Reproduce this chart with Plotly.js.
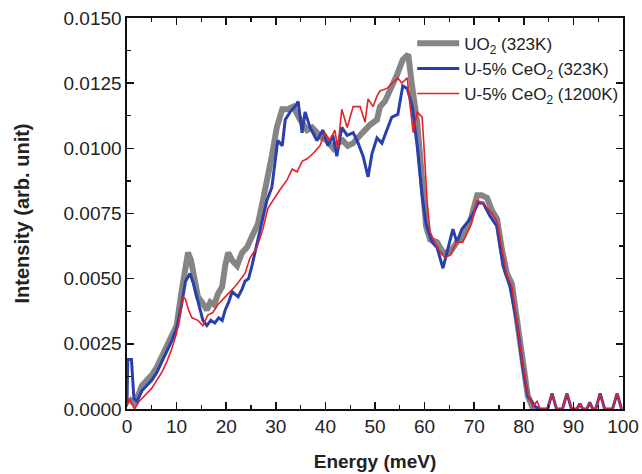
<!DOCTYPE html>
<html>
<head>
<meta charset="utf-8">
<script src="https://cdn.plot.ly/plotly-3.0.1.min.js"></script>
<style>html,body{margin:0;padding:0;background:#fff;}#chart{width:642px;height:474px;}</style>
</head>
<body>
<div id="chart"></div>
<script>
// UO2 (323K)
const uo2E = [0.3,1.5,2.2,3,4,5,6,7,8,9,10,11,11.8,12.3,12.9,13.6,14.3,15.1,16.1,16.8,17.6,18.3,19.2,19.8,20.4,21.2,22.2,23.2,24.2,25.4,26.4,27.4,28.3,29.2,30.2,31.3,32.4,33.5,34.9,36.3,37.3,38.3,39.3,40.3,41.6,42.5,43.5,44.5,45.6,47,48.4,49,50.4,51,52,53,54.4,55.6,56.7,57.4,58.5,59.1,59.7,60.3,61.1,62.5,63.7,65.1,66.5,67.7,69.2,70.6,71.5,72.6,73.6,74.6,75.6,76.6,77.6,78.6,79.8,80.8,81.9,83];
const uo2I = [0.0004,0.0002,0.0005,0.0009,0.0011,0.0013,0.0016,0.0020,0.0024,0.0028,0.0032,0.0045,0.0057,0.0060,0.0057,0.0049,0.0043,0.0041,0.0038,0.0041,0.0040,0.0044,0.0047,0.0055,0.0060,0.0057,0.0055,0.0060,0.0062,0.0067,0.0071,0.0080,0.0088,0.0097,0.0108,0.0115,0.0115,0.0116,0.0111,0.0107,0.0108,0.0106,0.0104,0.0103,0.0100,0.0102,0.0103,0.0101,0.0102,0.0105,0.0108,0.0109,0.0111,0.0116,0.0118,0.0122,0.0128,0.0134,0.0136,0.0125,0.0110,0.0097,0.0082,0.0070,0.0065,0.0064,0.0060,0.0060,0.0064,0.0066,0.0072,0.0082,0.0082,0.0081,0.0076,0.0073,0.0061,0.0052,0.0048,0.0035,0.0017,0.0005,0.0000,0.0000];

// U-5% CeO2 (323K)
const ce323E = [0,0.15,0.9,1.4,2,3,4,5,6,7,8,9,10,11,11.8,12.7,13.4,14.1,14.8,15.3,16.1,16.9,17.7,18.5,19.2,19.8,20.5,21.2,22.4,23.2,23.8,24.5,25.2,26.2,26.8,28.2,29.2,29.8,30.4,31.3,31.9,32.9,33.9,34.5,35.3,35.9,36.9,38.3,39.5,40.5,41.5,42.3,43.3,44.4,45.6,46.6,47.6,48.6,49.4,50.4,51.4,52.4,53.4,54.6,55.6,56.5,57.5,58.5,59.5,60.3,61.5,62.5,63.7,64.5,65.7,66.5,67.5,68.8,69.8,70.8,71.8,73.2,74.6,75.8,77.2,78.6,79.8,80.8,82.3,83,84.8,85.7,86.6,87.8,88.7,89.6,90.7,91.3,91.9,92.7,93.3,93.9,94.5,95.4,96.3,97.9,98.8,99.7];
const ce323I = [0.0002,0.0019,0.0019,0.0004,0.0003,0.0007,0.0009,0.0011,0.0014,0.0018,0.0022,0.0026,0.0031,0.0040,0.0049,0.0052,0.0048,0.0043,0.0037,0.0034,0.0032,0.0034,0.0033,0.0035,0.0034,0.0038,0.0041,0.0045,0.0043,0.0046,0.0049,0.0050,0.0055,0.0063,0.0069,0.0080,0.0085,0.0093,0.0103,0.0101,0.0111,0.0114,0.0116,0.0118,0.0106,0.0114,0.0108,0.0103,0.0107,0.0101,0.0105,0.0097,0.0108,0.0105,0.0106,0.0102,0.0097,0.0089,0.0098,0.0104,0.0102,0.0107,0.0112,0.0113,0.0124,0.0123,0.0116,0.0101,0.0082,0.0071,0.0064,0.0062,0.0054,0.0060,0.0069,0.0064,0.0069,0.0072,0.0075,0.0079,0.0079,0.0074,0.0070,0.0055,0.0047,0.0033,0.0016,0.0005,0.0001,0.0000,0.0000,0.0006,0.0000,0.0000,0.0006,0.0000,0.0000,0.0002,0.0000,0.0000,0.00025,0.0000,0.0000,0.0006,0.0000,0.0000,0.0006,0.0000];

// U-5% CeO2 (1200K)
const ce1200E = [0,0.5,1,1.5,2.5,4,5,6,7,8,9,10,10.7,11.3,11.8,12.4,13.1,14.3,15.3,16.3,17.3,18.3,19.8,21.8,23.8,24.8,26.2,27.4,28.4,29.4,30.8,32.3,33.3,34.3,35.3,36.3,37.5,38.9,39.9,40.9,41.9,42.5,43.3,44.4,45.6,47,48,48.6,49.6,50.4,51,52.4,53.6,54.6,55.4,56.5,57.1,57.7,58.5,59.5,59.9,60.5,61.1,62.5,64.1,65.1,66.5,67.7,69.2,70.6,71.8,73.6,74.6,75.6,76.6,77.6,78.6,79.8,80.8,81.8,82.7,83.3,84.8,85.7,86.6,87.8,88.7,89.6,90.7,91.3,91.9,92.7,93.3,93.9,94.5,95.4,96.3,97.9,98.8,99.7];
const ce1200I = [0.0001,0.0004,0.0002,0.0000,0.0003,0.0006,0.0008,0.0011,0.0014,0.0018,0.0023,0.0029,0.0037,0.0043,0.0042,0.0038,0.0035,0.0034,0.0032,0.0036,0.0037,0.0040,0.0043,0.0047,0.0052,0.0058,0.0062,0.0069,0.0077,0.0080,0.0084,0.0088,0.0092,0.0091,0.0095,0.0096,0.0098,0.0101,0.0106,0.0103,0.0107,0.0100,0.0115,0.0108,0.0116,0.0116,0.0110,0.0119,0.0116,0.0120,0.0122,0.0123,0.0125,0.0127,0.0125,0.0127,0.0116,0.0106,0.0114,0.0112,0.0100,0.0080,0.0068,0.0062,0.0058,0.0059,0.0064,0.0064,0.0070,0.0080,0.0079,0.0075,0.0072,0.0061,0.0051,0.0047,0.0034,0.0017,0.0006,0.0001,0.0003,0.0000,0.0000,0.0006,0.0000,0.0000,0.0006,0.0000,0.0000,0.0002,0.0000,0.0000,0.00025,0.0000,0.0000,0.0006,0.0000,0.0000,0.0006,0.0000];

const seriesNames = ['UO<sub>2</sub> (323K)','U-5% CeO<sub>2</sub> (323K)','U-5% CeO<sub>2</sub> (1200K)'];
const xTicks = [0,10,20,30,40,50,60,70,80,90,100];
const yTicks = [0,0.0025,0.005,0.0075,0.01,0.0125,0.015];

const font = '"Liberation Sans", Arial, Helvetica, sans-serif';
const traces = [
  {x: uo2E, y: uo2I, name: seriesNames[0], mode: 'lines', line: {color: '#858585', width: 6}},
  {x: ce323E, y: ce323I, name: seriesNames[1], mode: 'lines', line: {color: '#2a3fae', width: 3}},
  {x: ce1200E, y: ce1200I, name: seriesNames[2], mode: 'lines', line: {color: '#e8202a', width: 1.6}}
];
const axisCommon = {
  showline: true, linecolor: '#111', linewidth: 1.6, mirror: 'allticks',
  ticks: 'inside', ticklen: 7, tickwidth: 1.5, tickcolor: '#111',
  showgrid: false, zeroline: false,
  tickfont: {family: font, size: 19, color: '#222'}
};
const layout = {
  width: 642, height: 474,
  margin: {l: 127, r: 19, t: 18, b: 65},
  paper_bgcolor: '#fff', plot_bgcolor: '#fff',
  showlegend: true,
  legend: {x: 0.575, xanchor: 'left', y: 0.98, yanchor: 'top', bgcolor: 'rgba(0,0,0,0)',
           font: {family: font, size: 17, color: '#222'}, itemwidth: 42, tracegroupgap: 0},
  xaxis: Object.assign({}, axisCommon, {
    range: [0, 100], tickvals: xTicks, ticktext: xTicks.map(String),
    minor: {ticks: 'inside', ticklen: 4, tickwidth: 1.2, tickcolor: '#111', dtick: 5, tick0: 0},
    title: {text: '<b>Energy (meV)</b>', font: {family: font, size: 19, color: '#222'}, standoff: 18}
  }),
  yaxis: Object.assign({}, axisCommon, {
    range: [0, 0.015], tickvals: yTicks, ticktext: yTicks.map(v => v.toFixed(4)),
    minor: {ticks: 'inside', ticklen: 4, tickwidth: 1.2, tickcolor: '#111', dtick: 0.00125, tick0: 0},
    title: {text: '<b>Intensity (arb. unit)</b>', font: {family: font, size: 20, color: '#222'}, standoff: 28}
  })
};
Plotly.newPlot('chart', traces, layout, {displayModeBar: false, staticPlot: true});
</script>
</body>
</html>
